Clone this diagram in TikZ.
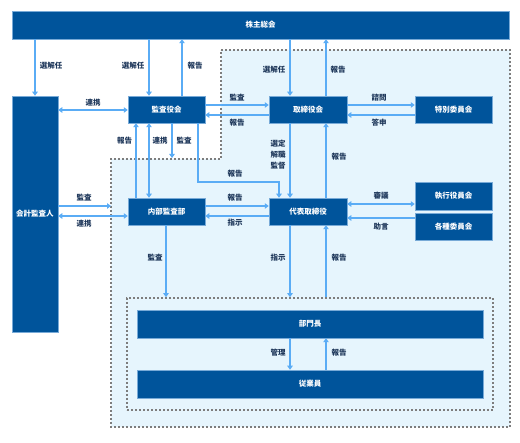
\documentclass[tikz,border=0pt]{standalone}
\usepackage{fontspec}
\newfontfamily\jp{Noto Sans CJK JP}
\usetikzlibrary{arrows.meta}
\definecolor{boxblue}{RGB}{0,84,155}
\definecolor{boxedge}{RGB}{120,170,215}
\definecolor{arrblue}{RGB}{90,172,245}
\definecolor{bgblue}{RGB}{230,245,253}
\definecolor{dotgray}{RGB}{125,125,125}
\definecolor{lbl}{RGB}{30,55,90}
\begin{document}
\begin{tikzpicture}[x=1pt,y=-1pt,
  font=\jp\bfseries\fontsize{7.5}{9}\selectfont,
  box/.style={draw=boxedge, line width=0.5pt, fill=boxblue, text=white, inner sep=0pt},
  arr/.style={draw=arrblue, line width=1.5pt, -{Triangle[width=5.5pt,length=4pt]}},
  darr/.style={draw=arrblue, line width=1.5pt, {Triangle[width=5.5pt,length=4pt]}-{Triangle[width=5.5pt,length=4pt]}},
  lab/.style={text=lbl, inner sep=0pt},
  zone/.style={draw=dotgray, line width=1.6pt, dash pattern=on 1.6pt off 2.4pt, fill=bgblue}]
\useasboundingbox (0,0) rectangle (520,443);
% zones
\coordinate (o1) at (221,50);
\coordinate (o2) at (510,50);
\coordinate (o3) at (510,427);
\coordinate (o4) at (111,427);
\coordinate (o5) at (111,159);
\coordinate (o6) at (221,159);
\draw[zone] (o1) -- (o2) -- (o3) -- (o4) -- (o5) -- (o6) -- cycle;
\node[zone, minimum width=366pt, minimum height=112pt, inner sep=0pt] (inner) at (310,354) {};
% boxes
\node[box, minimum width=497pt, minimum height=28pt] (kabu) at (260.5,25) {株主総会};
\node[box, minimum width=46pt, minimum height=236pt] (kaikei) at (35,214) {会計監査人};
\node[box, minimum width=77pt, minimum height=27pt] (kansa) at (166.5,109.5) {監査役会};
\node[box, minimum width=78pt, minimum height=27pt] (tori) at (308,109.5) {取締役会};
\node[box, minimum width=77pt, minimum height=27pt] (toku) at (453.5,109.5) {特別委員会};
\node[box, minimum width=77pt, minimum height=27pt] (naibu) at (166.5,211.5) {内部監査部};
\node[box, minimum width=78pt, minimum height=27pt] (daihyo) at (308,211.5) {代表取締役};
\node[box, minimum width=77pt, minimum height=28pt] (shikko) at (453.5,196) {執行役員会};
\node[box, minimum width=77pt, minimum height=27pt] (kakushu) at (453.5,226.5) {各種委員会};
\node[box, minimum width=346pt, minimum height=28pt] (bumon) at (310,324) {部門長};
\node[box, minimum width=346pt, minimum height=28pt] (jugyo) at (310,384) {従業員};
% columns and rows
\coordinate (xA) at (35,0);
\coordinate (xB) at (136,0);
\coordinate (xC) at (149,0);
\coordinate (xD) at (166,0);
\coordinate (xE) at (172,0);
\coordinate (xJ) at (182,0);
\coordinate (xF) at (198,0);
\coordinate (xG) at (279,0);
\coordinate (xH) at (290,0);
\coordinate (xI) at (326,0);
\coordinate (y105) at (0,105);
\coordinate (y110) at (0,110);
\coordinate (y115) at (0,115);
\coordinate (yStep) at (0,158);
\coordinate (yBend) at (0,182);
\coordinate (y204) at (0,204);
\coordinate (y206) at (0,206);
\coordinate (y216) at (0,216);
\coordinate (y218) at (0,218);
% arrows from shareholders
\draw[arr] (kabu.south -| xA) -- (kaikei.north -| xA);
\draw[arr] (kabu.south -| xC) -- (kansa.north -| xC);
\draw[arr] (kansa.north -| xJ) -- (kabu.south -| xJ);
\draw[arr] (kabu.south -| xH) -- (tori.north -| xH);
\draw[arr] (tori.north -| xI) -- (kabu.south -| xI);
% top row
\draw[darr] (kaikei.east |- y110) -- (kansa.west |- y110);
\draw[arr] (kansa.east |- y105) -- (tori.west |- y105);
\draw[arr] (tori.west |- y115) -- (kansa.east |- y115);
\draw[arr] (tori.east |- y105) -- (toku.west |- y105);
\draw[arr] (toku.west |- y115) -- (tori.east |- y115);
% below audit board
\draw[arr] (naibu.north -| xB) -- (kansa.south -| xB);
\draw[darr] (kansa.south -| xC) -- (naibu.north -| xC);
\draw[arr] (kansa.south -| xE) -- (xE |- yStep);
\draw[arr] (kansa.south -| xF) -- (xF |- yBend) -- (xG |- yBend) -- (daihyo.north -| xG);
% board to representative
\draw[arr] (tori.south -| xH) -- (daihyo.north -| xH);
\draw[arr] (daihyo.north -| xI) -- (tori.south -| xI);
% middle row
\draw[arr] (kaikei.east |- y206) -- (o5 |- y206);
\draw[darr] (kaikei.east |- y216) -- (naibu.west |- y216);
\draw[arr] (naibu.east |- y206) -- (daihyo.west |- y206);
\draw[arr] (daihyo.west |- y216) -- (naibu.east |- y216);
\draw[darr] (daihyo.east |- y204) -- (shikko.west |- y204);
\draw[arr] (kakushu.west |- y218) -- (daihyo.east |- y218);
% lower
\draw[arr] (naibu.south -| xD) -- (inner.north -| xD);
\draw[arr] (daihyo.south -| xH) -- (inner.north -| xH);
\draw[arr] (inner.north -| xI) -- (daihyo.south -| xI);
\draw[arr] (bumon.south -| xH) -- (jugyo.north -| xH);
\draw[arr] (jugyo.north -| xI) -- (bumon.south -| xI);
% labels
\node[lab] (l1) at (51,66) {選解任};
\node[lab] (l2) at (133,66) {選解任};
\node[lab] (l3) at (195,66) {報告};
\node[lab] (l4) at (274,70) {選解任};
\node[lab] (l5) at (338,70) {報告};
\node[lab] (l6) at (93,103) {連携};
\node[lab] (l7) at (237,98) {監査};
\node[lab] (l8) at (237,123) {報告};
\node[lab] (l9) at (379,98) {諮問};
\node[lab] (l10) at (379,123) {答申};
\node[lab] (l11) at (124.5,141) {報告};
\node[lab] (l12) at (160,141) {連携};
\node[lab] (l13) at (184,141) {監査};
\node[lab] (l14) at (235,174) {報告};
\node[lab] (l15) at (235,198) {報告};
\node[lab] (l16) at (235,223) {指示};
\node[lab] (l17) at (84,198) {監査};
\node[lab] (l18) at (84,224) {連携};
\node[lab] (l19) at (155,258) {監査};
\node[lab] (l20) at (278,144) {選定};
\node[lab] (l21) at (278,155) {解職};
\node[lab] (l22) at (278,166) {監督};
\node[lab] (l23) at (339,157) {報告};
\node[lab] (l24) at (381,196) {審議};
\node[lab] (l25) at (381,227) {助言};
\node[lab] (l26) at (278,258) {指示};
\node[lab] (l27) at (339,258) {報告};
\node[lab] (l28) at (278,353) {管理};
\node[lab] (l29) at (339,353) {報告};
\end{tikzpicture}
\end{document}
